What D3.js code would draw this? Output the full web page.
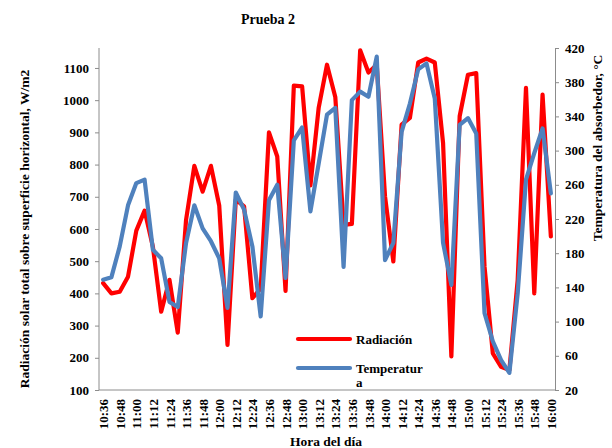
<!DOCTYPE html>
<meta charset="utf-8">
<style>
  body { margin: 0; background: #fff; }
  text { font-family: "Liberation Serif", "Times New Roman", serif; font-weight: bold; }
</style>
<svg width="612" height="448"></svg>
<script src="https://cdn.jsdelivr.net/npm/d3@7"></script>
<script>

// Categories: every 6 minutes from 10:36 to 16:00
var horas = ["10:36","10:42","10:48","10:54","11:00","11:06","11:12","11:18","11:24","11:30",
             "11:36","11:42","11:48","11:54","12:00","12:06","12:12","12:18","12:24","12:30",
             "12:36","12:42","12:48","12:54","13:00","13:06","13:12","13:18","13:24","13:30",
             "13:36","13:42","13:48","13:54","14:00","14:06","14:12","14:18","14:24","14:30",
             "14:36","14:42","14:48","14:54","15:00","15:06","15:12","15:18","15:24","15:30",
             "15:36","15:42","15:48","15:54","16:00"];

// Radiacion solar, W/m2 (left axis)
var radiacion = [432, 400, 405, 452, 595, 657, 545, 343, 442, 278,
                 628, 796, 716, 796, 673, 240, 691, 670, 385, 415,
                 900, 825, 408, 1045, 1043, 735, 977, 1110, 1010, 613,
                 616, 1155, 1086, 1110, 701, 499, 924, 945, 1117, 1129,
                 1117, 867, 204, 950, 1079, 1084, 483, 214, 172, 162,
                 442, 1038, 400, 1017, 577];

// Temperatura del absorbedor, °C (right axis)
var temperatura = [149, 152, 188, 236, 262, 266, 184, 174, 123, 117,
                   192, 236, 209, 194, 174, 116, 251, 231, 188, 106,
                   242, 260, 151, 312, 327, 229, 285, 342, 350, 164,
                   359, 369, 363, 410, 172, 192, 322, 355, 395, 402,
                   361, 192, 143, 330, 338, 320, 110, 77, 55, 40,
                   133, 266, 297, 326, 250];

var radTicks = [100, 200, 300, 400, 500, 600, 700, 800, 900, 1000, 1100];
var tempTicks = [20, 60, 100, 140, 180, 220, 260, 300, 340, 380, 420];

var svg = d3.select("svg"),
    plotLeft = 99, plotRight = 555, plotTop = 48, plotBottom = 390,
    axisColor = "#8c8c8c";

var x = d3.scalePoint()
    .domain(horas)
    .range([plotLeft, plotRight])
    .padding(0.5);

var yRad = d3.scaleLinear().domain([100, 1162]).range([plotBottom, plotTop]);
var yTemp = d3.scaleLinear().domain([20, 420]).range([plotBottom, plotTop]);

// Left axis
var gl = svg.append("g")
    .attr("transform", "translate(" + plotLeft + ",0)")
    .call(d3.axisLeft(yRad).tickValues(radTicks).tickFormat(d3.format("d"))
      .tickSize(4).tickPadding(6).tickSizeOuter(0));
gl.select(".domain").attr("stroke", axisColor).attr("d", "M0," + plotTop + "V" + plotBottom);

// Right axis
var gr = svg.append("g")
    .attr("transform", "translate(" + plotRight + ",0)")
    .call(d3.axisRight(yTemp).tickValues(tempTicks).tickFormat(d3.format("d"))
      .tickSize(4).tickPadding(6).tickSizeOuter(0));
gr.select(".domain").attr("stroke", axisColor);

// Bottom axis, label on every second category
var gb = svg.append("g")
    .attr("transform", "translate(0," + plotBottom + ")")
    .call(d3.axisBottom(x)
      .tickValues(horas.filter(function(d, i) { return i % 2 === 0; }))
      .tickSize(0).tickPadding(5).tickSizeOuter(0));
gb.select(".domain").attr("stroke", axisColor).attr("d", "M" + plotLeft + ",0H" + plotRight);

svg.selectAll(".tick line").attr("stroke", axisColor);
svg.selectAll(".tick text")
    .attr("fill", "#000")
    .style("font-size", "13px")
    .style("font-family", "'Liberation Serif', serif")
    .style("font-weight", "bold");

gb.selectAll("text")
    .attr("transform", "rotate(-90)")
    .attr("text-anchor", "end")
    .attr("x", -9)
    .attr("y", 0)
    .attr("dy", "0.35em");

// Series
var lineRad = d3.line()
    .x(function(d, i) { return x(horas[i]); })
    .y(function(d) { return yRad(d); });

var lineTemp = d3.line()
    .x(function(d, i) { return x(horas[i]); })
    .y(function(d) { return yTemp(d); });

svg.append("path")
    .datum(radiacion)
    .attr("fill", "none")
    .attr("stroke", "#ff0000")
    .attr("stroke-width", 4.2)
    .attr("stroke-linejoin", "round")
    .attr("stroke-linecap", "round")
    .attr("d", lineRad);

svg.append("path")
    .datum(temperatura)
    .attr("fill", "none")
    .attr("stroke", "#4f81bd")
    .attr("stroke-width", 4.2)
    .attr("stroke-linejoin", "round")
    .attr("stroke-linecap", "round")
    .attr("d", lineTemp);

// Titles
svg.append("text")
    .attr("x", 268).attr("y", 24)
    .attr("text-anchor", "middle")
    .style("font-size", "14px")
    .text("Prueba 2");

svg.append("text")
    .attr("transform", "translate(29,229) rotate(-90)")
    .attr("text-anchor", "middle")
    .style("font-size", "13.5px")
    .text("Radiación solar total sobre superficie horizontal, W/m2");

svg.append("text")
    .attr("transform", "translate(602,148) rotate(-90)")
    .attr("text-anchor", "middle")
    .style("font-size", "13.5px")
    .text("Temperatura del absorbedor, °C");

svg.append("text")
    .attr("x", 326).attr("y", 446)
    .attr("text-anchor", "middle")
    .style("font-size", "13.5px")
    .text("Hora del día");

// Legend
var legend = svg.append("g");
legend.append("line")
    .attr("x1", 298).attr("x2", 350).attr("y1", 339).attr("y2", 339)
    .attr("stroke", "#ff0000").attr("stroke-width", 4.2).attr("stroke-linecap", "round");
legend.append("text")
    .attr("x", 356).attr("y", 344)
    .style("font-size", "13px")
    .text("Radiación");
legend.append("line")
    .attr("x1", 298).attr("x2", 350).attr("y1", 368).attr("y2", 368)
    .attr("stroke", "#4f81bd").attr("stroke-width", 4.2).attr("stroke-linecap", "round");
var t2 = legend.append("text")
    .attr("x", 356).attr("y", 373)
    .style("font-size", "13px");
t2.append("tspan").attr("x", 356).text("Temperatur");
t2.append("tspan").attr("x", 356).attr("dy", 14).text("a");

</script>
